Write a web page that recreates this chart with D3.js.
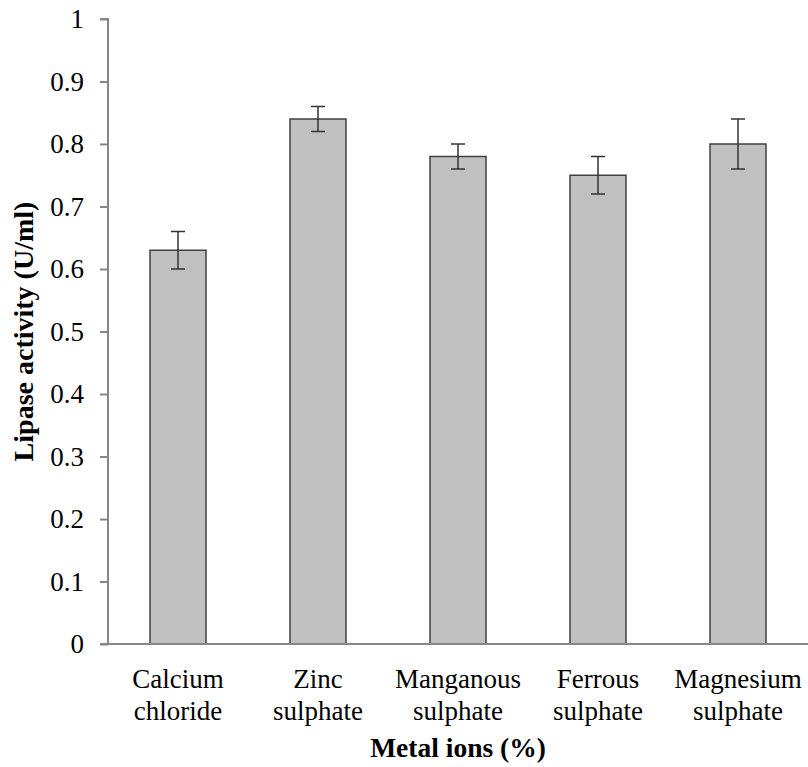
<!DOCTYPE html>
<html>
<head>
<meta charset="utf-8">
<script src="https://cdn.jsdelivr.net/npm/d3@7"></script>
<style>
  body { margin: 0; background: #fff; }
</style>
</head>
<body>
<script>
// chart data
const categories = [["Calcium", "chloride"], ["Zinc", "sulphate"], ["Manganous", "sulphate"], ["Ferrous", "sulphate"], ["Magnesium", "sulphate"]];
const activity = [0.63, 0.84, 0.78, 0.75, 0.80];
const errors = [0.03, 0.02, 0.02, 0.03, 0.04];
const yTicks = [0, 0.1, 0.2, 0.3, 0.4, 0.5, 0.6, 0.7, 0.8, 0.9, 1];

const width = 808;
const height = 767;
const margin = { top: 19, right: 0, bottom: 123, left: 108 };
const font = '"Liberation Serif"';
const fontSize = 27;

const svg = d3.select('body')
  .append('svg')
  .attr('width', width)
  .attr('height', height);

const x = d3.scaleBand()
  .domain(d3.range(categories.length))
  .range([margin.left, width - margin.right])
  .paddingInner(0.6)
  .paddingOuter(0.3);

const y = d3.scaleLinear()
  .domain([0, 1])
  .range([height - margin.bottom, margin.top]);

// bars
svg.selectAll('rect.bar')
  .data(activity)
  .enter()
  .append('rect')
  .attr('class', 'bar')
  .attr('x', (d, i) => x(i))
  .attr('y', d => y(d))
  .attr('width', x.bandwidth())
  .attr('height', d => y(0) - y(d))
  .attr('fill', '#c0c0c0')
  .attr('stroke', '#404040')
  .attr('stroke-width', 1.5);

// error bars
const cap = 7;
activity.forEach((d, i) => {
  const cx = x(i) + x.bandwidth() / 2;
  const g = svg.append('g').attr('stroke', '#333').attr('stroke-width', 1.5);
  g.append('line')
    .attr('x1', cx).attr('x2', cx)
    .attr('y1', y(d + errors[i])).attr('y2', y(d - errors[i]));
  g.append('line')
    .attr('x1', cx - cap).attr('x2', cx + cap)
    .attr('y1', y(d + errors[i])).attr('y2', y(d + errors[i]));
  g.append('line')
    .attr('x1', cx - cap).attr('x2', cx + cap)
    .attr('y1', y(d - errors[i])).attr('y2', y(d - errors[i]));
});

// y axis
const yAxis = svg.append('g')
  .attr('transform', `translate(${margin.left},0)`)
  .call(d3.axisLeft(y).tickValues(yTicks).tickFormat(d => String(+d.toFixed(1))).tickSize(8).tickPadding(16));
yAxis.select('.domain').attr('stroke', '#868686').attr('stroke-width', 2).attr('d', `M-8,${y(1)}H0V${y(0)}`);
yAxis.selectAll('.tick line').attr('stroke', '#868686').attr('stroke-width', 2);
yAxis.selectAll('.tick text')
  .style('font-family', font)
  .style('font-size', fontSize + 'px')
  .attr('fill', '#000');

// x axis
svg.append('line')
  .attr('x1', margin.left - 8)
  .attr('x2', width)
  .attr('y1', y(0))
  .attr('y2', y(0))
  .attr('stroke', '#868686')
  .attr('stroke-width', 2);

// category labels
categories.forEach((c, i) => {
  const cx = x(i) + x.bandwidth() / 2;
  const t = svg.append('text')
    .attr('y', y(0) + 44)
    .attr('text-anchor', 'middle')
    .style('font-family', font)
    .style('font-size', fontSize + 'px');
  t.append('tspan').attr('x', cx).text(c[0]);
  t.append('tspan').attr('x', cx).attr('dy', 32).text(c[1]);
});

// axis titles
svg.append('text')
  .attr('x', 458)
  .attr('y', 757)
  .attr('text-anchor', 'middle')
  .style('font-family', font)
  .style('font-size', '27.5px')
  .style('font-weight', 'bold')
  .text('Metal ions (%)');

svg.append('text')
  .attr('transform', `translate(33,${(y(0) + y(1)) / 2}) rotate(-90)`)
  .attr('text-anchor', 'middle')
  .style('font-family', font)
  .style('font-size', '28px')
  .style('font-weight', 'bold')
  .text('Lipase activity (U/ml)');
</script>
</body>
</html>
